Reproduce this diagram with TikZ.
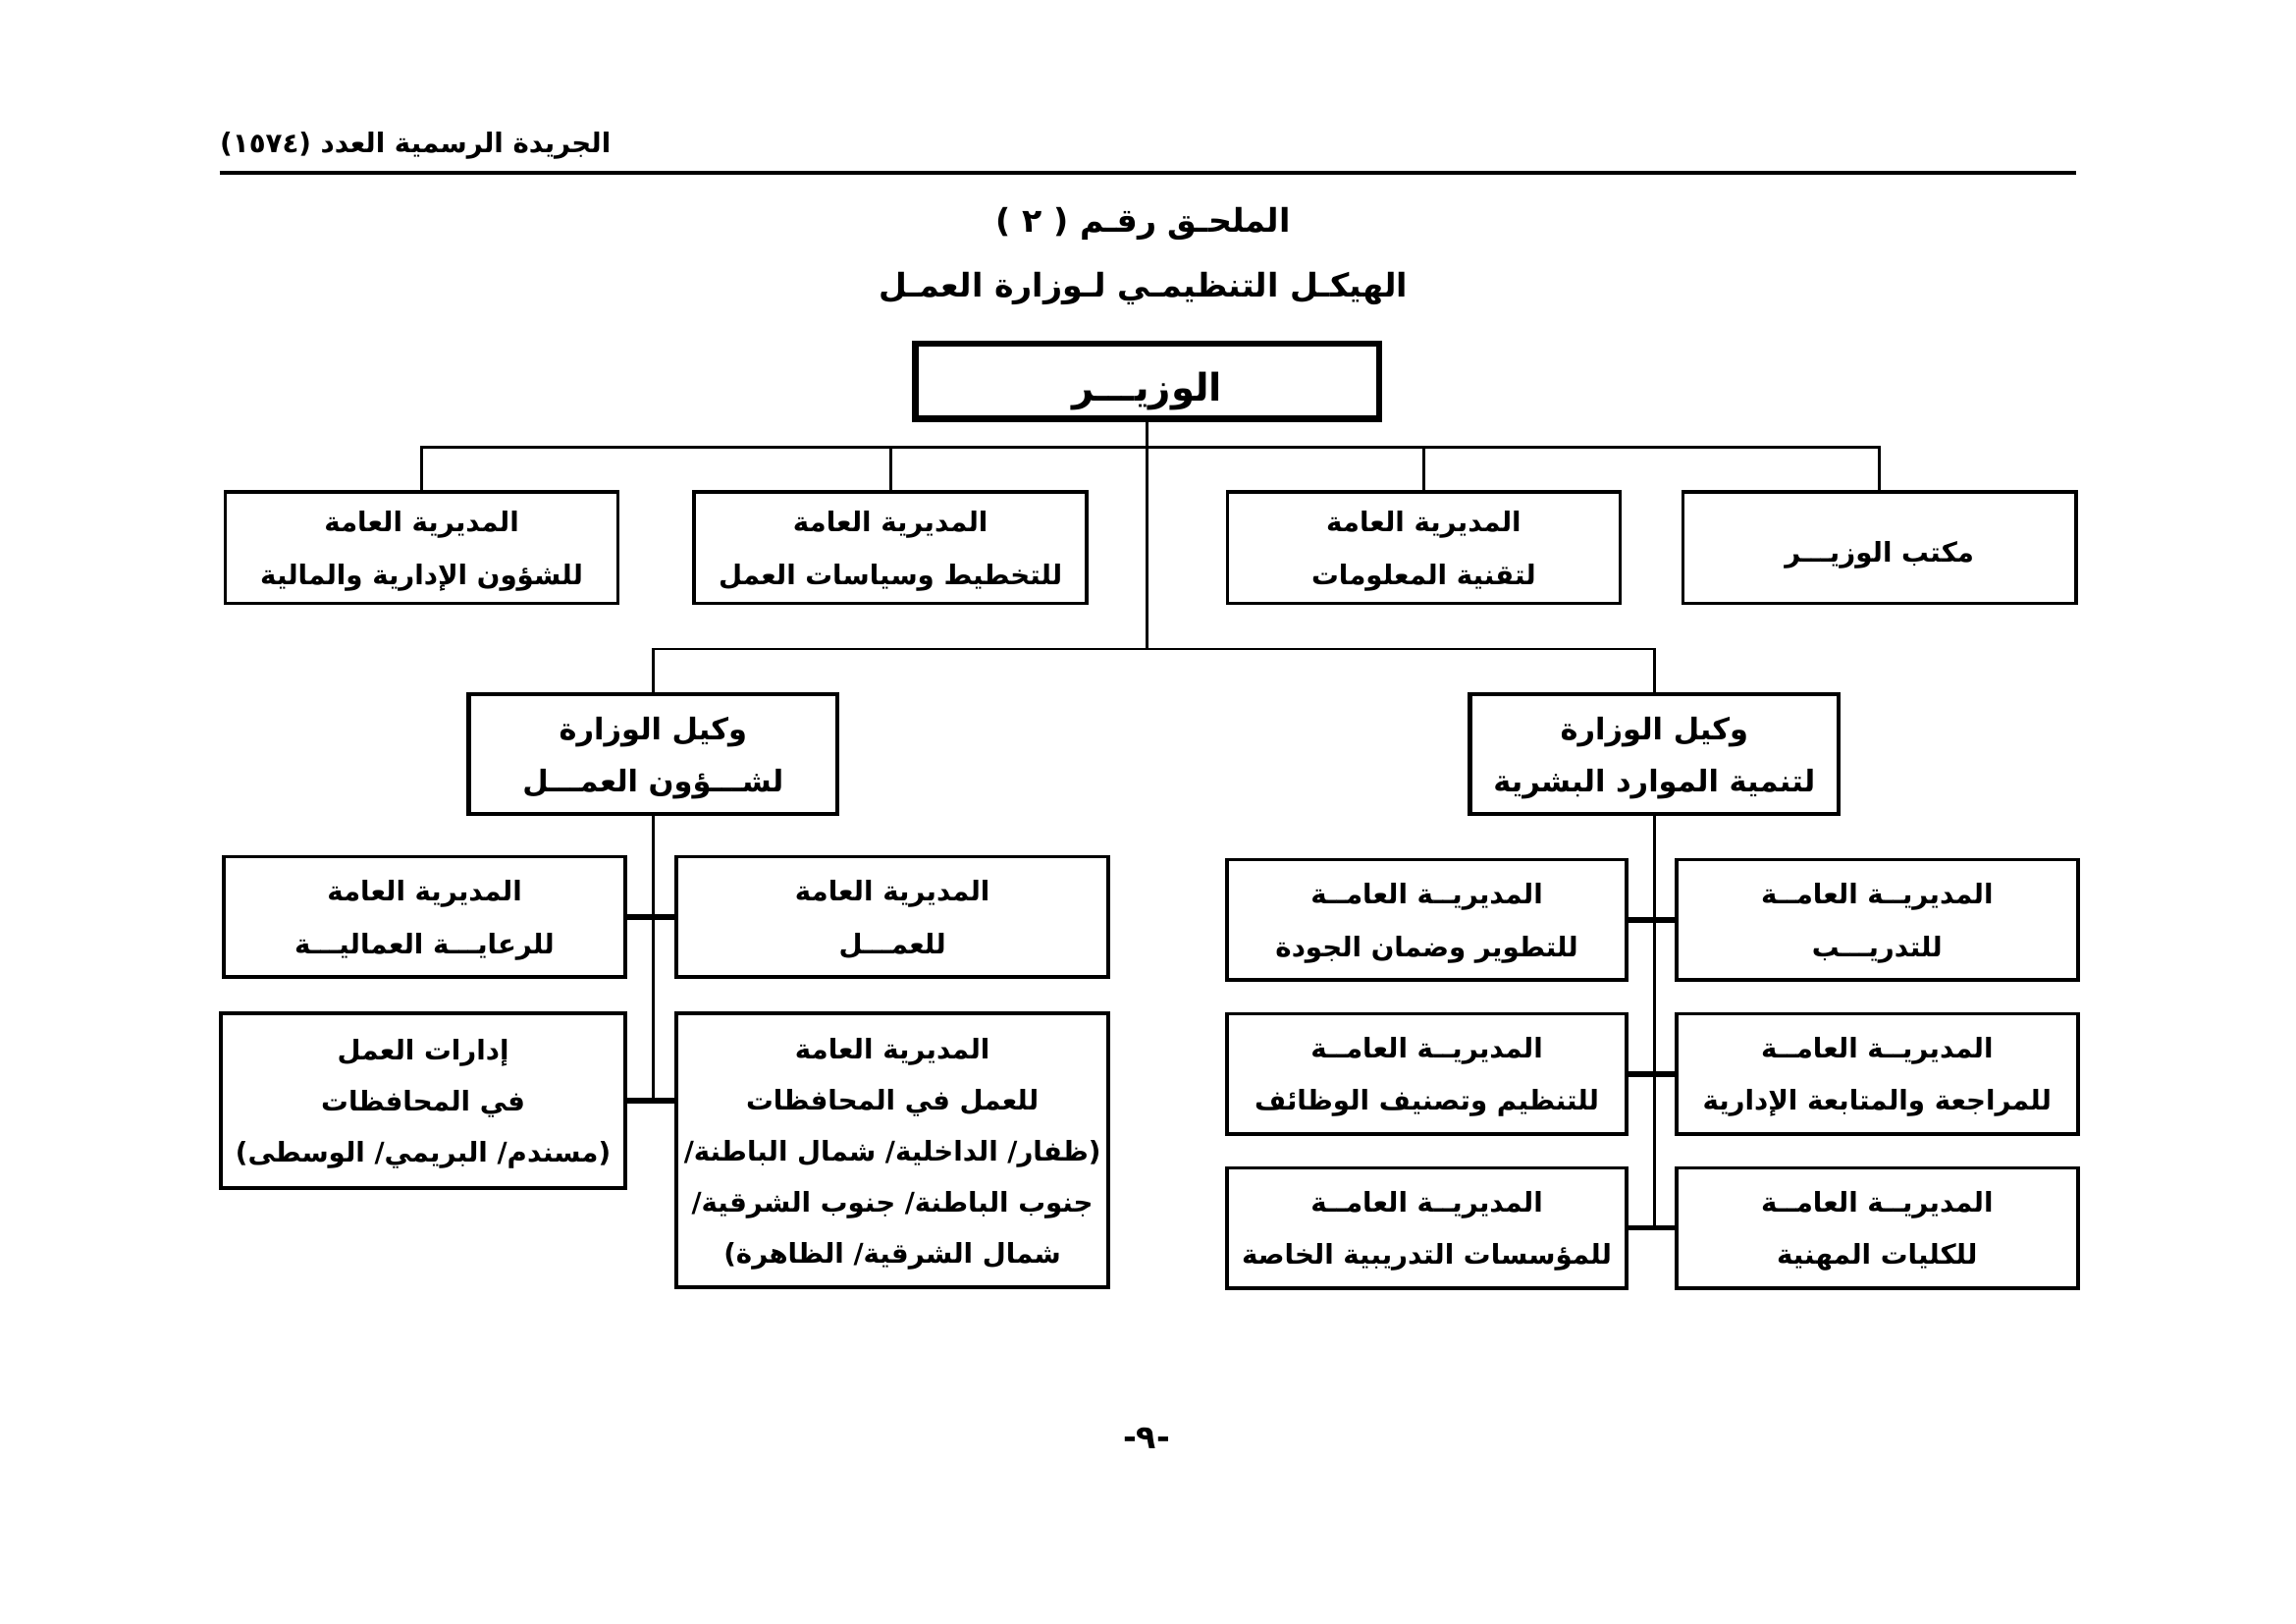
\documentclass[tikz,border=0pt]{standalone}
\usepackage{fontspec}
\usepackage{tikz}
\usetikzlibrary{positioning, calc}
\newfontfamily\arabicfont[Script=Arabic]{DejaVu Sans}
\TeXXeTstate=1
\newcommand{\ar}[1]{\beginR #1\endR}

\begin{document}
\begin{tikzpicture}[
    box/.style={rectangle, draw=black, line width=1.3pt, fill=white,
                align=center, inner xsep=1pt, inner ysep=2pt, outer sep=0pt,
                font=\arabicfont\bfseries\fontsize{10}{19.3}\selectfont,
                text depth=-4.5pt},
    tall/.style={box, font=\arabicfont\bfseries\fontsize{10}{18.8}\selectfont},
    chief/.style={box, line width=2.4pt, minimum width=6cm, minimum height=0.97cm,
                  font=\arabicfont\bfseries\fontsize{14}{18}\selectfont,
                  text depth=, execute at begin node={\rule{0pt}{18pt}}},
    deputy/.style={box, line width=1.5pt, minimum width=4.77cm, minimum height=1.55cm,
                   font=\arabicfont\bfseries\fontsize{11}{19.3}\selectfont,
                   text depth=-8pt},
    link/.style={line width=1pt},
    stub/.style={line width=2pt},
    heading/.style={font=\arabicfont\bfseries\fontsize{12}{14}\selectfont, inner sep=0pt}
  ]
    \useasboundingbox (0,0) rectangle (29.7,-21);

    % Page header
    \node[font=\arabicfont\bfseries\fontsize{10}{12}\selectfont, inner sep=0pt,
          anchor=west] (jarida) at (2.84,-1.89) {\ar{الجريدة الرسمية العدد (١٥٧٤)}};
    \draw[line width=1.6pt] (2.84,-2.235) -- (26.86,-2.235);

    % Titles
    \node[heading] (mulhaq) at (14.79,-2.9) {\ar{الملحـق رقـم ( ٢ )}};
    \node[heading] (haykal) at (14.79,-3.73) {\ar{الهيكـل التنظيمـي لـوزارة العمـل}};

    % Minister
    \node[chief] (wazir) at (14.84,-4.93) {\ar{الوزيـــر}};

    % First row
    \node[box, minimum width=5.08cm, minimum height=1.44cm] (maliya) at (5.455,-7.084)
      {\ar{المديرية العامة}\\\ar{للشؤون الإدارية والمالية}};
    \node[box, minimum width=5.08cm, minimum height=1.44cm, right=0.985cm of maliya] (takhtit)
      {\ar{المديرية العامة}\\\ar{للتخطيط وسياسات العمل}};
    \node[box, minimum width=5.08cm, minimum height=1.44cm, right=1.818cm of takhtit] (taqniya)
      {\ar{المديرية العامة}\\\ar{لتقنية المعلومات}};
    \node[box, minimum width=5.08cm, minimum height=1.44cm, right=0.814cm of taqniya,
          text depth=, execute at begin node={\rule{0pt}{13pt}}] (maktab)
      {\ar{مكتب الوزيـــر}};

    % Deputies
    \node[deputy] (wakil-amal) at (8.448,-9.755)
      {\ar{وكيل الوزارة}\\\ar{لشـــؤون العمـــل}};
    \node[deputy] (wakil-mawarid) at (21.40,-9.755)
      {\ar{وكيل الوزارة}\\\ar{لتنمية الموارد البشرية}};

    % Labour affairs
    \node[box, minimum width=5.19cm, minimum height=1.553cm] (riaya) at (5.493,-11.857)
      {\ar{المديرية العامة}\\\ar{للرعايـــة العماليـــة}};
    \node[box, minimum width=5.587cm, minimum height=1.553cm, right=0.663cm of riaya] (amal)
      {\ar{المديرية العامة}\\\ar{للعمـــل}};
    \node[tall, minimum width=5.228cm, minimum height=2.254cm,
          below=0.473cm of riaya.south east, anchor=north east] (idarat)
      {\ar{إدارات العمل}\\\ar{في المحافظات}\\\ar{(مسندم/ البريمي/ الوسطى)}};
    \node[tall, minimum width=5.587cm, minimum height=3.54cm, below=0.473cm of amal] (mohafazat)
      {\ar{المديرية العامة}\\\ar{للعمل في المحافظات}\\\ar{(ظفار/ الداخلية/ شمال الباطنة/}\\
       \ar{جنوب الباطنة/ جنوب الشرقية/}\\\ar{شمال الشرقية/ الظاهرة)}};

    % Human resources
    \node[box, minimum width=5.17cm, minimum height=1.553cm] (tatwir) at (18.458,-11.895)
      {\ar{المديريــة العامــة}\\\ar{للتطوير وضمان الجودة}};
    \node[box, minimum width=5.19cm, minimum height=1.553cm, right=0.644cm of tatwir] (tadrib)
      {\ar{المديريــة العامــة}\\\ar{للتدريـــب}};
    \node[box, minimum width=5.17cm, minimum height=1.553cm, below=0.44cm of tatwir] (tanzim)
      {\ar{المديريــة العامــة}\\\ar{للتنظيم وتصنيف الوظائف}};
    \node[box, minimum width=5.19cm, minimum height=1.553cm, below=0.44cm of tadrib] (muraja)
      {\ar{المديريــة العامــة}\\\ar{للمراجعة والمتابعة الإدارية}};
    \node[box, minimum width=5.17cm, minimum height=1.553cm, below=0.44cm of tanzim] (muassasat)
      {\ar{المديريــة العامــة}\\\ar{للمؤسسات التدريبية الخاصة}};
    \node[box, minimum width=5.19cm, minimum height=1.553cm, below=0.44cm of muraja] (kulliyat)
      {\ar{المديريــة العامــة}\\\ar{للكليات المهنية}};

    % Page number
    \node[font=\arabicfont\bfseries\fontsize{12}{14}\selectfont] (safha) at (14.83,-18.6) {-٩-};

    % Lines
    \coordinate[below=0.364cm of wazir.south] (bar-top);
    \coordinate[above=0.587cm of wakil-amal.north] (bar-mid);
    \draw[link] (maliya.north) |- (bar-top) -| (maktab.north);
    \draw[link] (takhtit.north) -- (takhtit.north |- bar-top);
    \draw[link] (taqniya.north) -- (taqniya.north |- bar-top);
    \draw[link] (wazir.south) -- (wazir.south |- bar-mid);
    \draw[link] (wakil-amal.north) -- (bar-mid) -| (wakil-mawarid.north);
    \draw[link] (wakil-amal.south) -- (wakil-amal.south |- idarat.east);
    \draw[stub] (riaya.east) -- (amal.west);
    \draw[stub] (idarat.east) -- (idarat.east -| mohafazat.west);
    \draw[link] (wakil-mawarid.south) -- (wakil-mawarid.south |- muassasat.east);
    \draw[stub] (tatwir.east) -- (tadrib.west);
    \draw[stub] (tanzim.east) -- (muraja.west);
    \draw[stub] (muassasat.east) -- (kulliyat.west);

  \end{tikzpicture}
\end{document}
